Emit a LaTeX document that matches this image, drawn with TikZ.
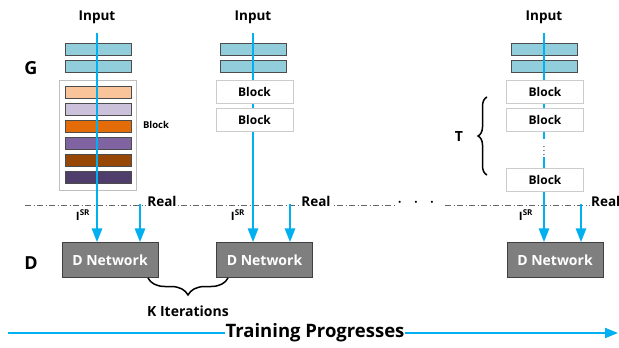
\documentclass[tikz,border=0pt]{standalone}
\usepackage{fontspec}
\setmainfont{Open Sans}
\usetikzlibrary{arrows.meta,decorations.pathreplacing}

\definecolor{flowblue}{HTML}{00B0F0}
\definecolor{tealblk}{HTML}{92CDDC}
\definecolor{blkA}{HTML}{F9C499}
\definecolor{blkB}{HTML}{CCC1DA}
\definecolor{blkC}{HTML}{E36C09}
\definecolor{blkD}{HTML}{8064A2}
\definecolor{blkE}{HTML}{974806}
\definecolor{blkF}{HTML}{4F3D6B}
\definecolor{dnet}{HTML}{7F7F7F}

\begin{document}
\begin{tikzpicture}[x=1pt,y=-1pt,
  flow/.style={draw=flowblue,line width=2.8pt,-{Triangle[width=10pt,length=14pt]}},
  lbl/.style={font=\bfseries\fontsize{13.5}{15}\selectfont,inner sep=1pt},
  big/.style={font=\bfseries\fontsize{18}{20}\selectfont},
  thin/.style={draw=black!70,minimum width=66pt,minimum height=12pt,inner sep=0pt},
  blockbox/.style={draw=black!20,fill=white,minimum width=77pt,minimum height=23pt,inner sep=0pt,font=\bfseries\fontsize{12}{14}\selectfont},
  dbox/.style={draw=black!75,fill=dnet,text=white,minimum width=96pt,minimum height=35pt,inner sep=0pt,font=\bfseries\fontsize{14}{16}\selectfont},
  sr/.style={font=\bfseries\fontsize{11.5}{13}\selectfont,inner sep=0pt},
  curly/.style={decorate,line width=1.5pt}]
\clip (0,0) rectangle (619,348);
\useasboundingbox (0,0) rectangle (619,348);

\node[big] (g) at (31,68) {G};
\node[big] (d) at (31,263) {D};

\draw[black!60,dash pattern=on 6pt off 2.5pt on 1pt off 2.5pt] (25,205) -- (395,205);
\draw[black!60,dash pattern=on 6pt off 2.5pt on 1pt off 2.5pt] (445,205) -- (597,205);
\node[font=\bfseries\fontsize{20}{20}\selectfont] (dots) at (416,203) {$\cdot\;\cdot\;\cdot$};

\node[lbl] (in1) at (97,17) {Input};
\node[lbl] (in2) at (253,17) {Input};
\node[lbl] (in3) at (544,17) {Input};
\coordinate (top1) at (97,33);
\coordinate (top2) at (253,33);
\coordinate (top3) at (544,33);

\node[dbox] (dn1) at (110,260) {D Network};
\node[dbox] (dn2) at (264.5,260) {D Network};
\node[dbox] (dn3) at (555,260) {D Network};

% generator, first stage
\node[draw=black!25,fill=white,minimum width=77pt,minimum height=110pt] (grp) at (97.5,135) {};
\foreach \y [count=\i] in {49,66} {
  \node[thin,fill=tealblk] (ta\i) at (98,\y) {};
  \node[thin,fill=tealblk] (tb\i) at (253,\y) {};
  \node[thin,fill=tealblk] (tc\i) at (544.5,\y) {};
}
\foreach \c [count=\i] in {blkA,blkB,blkC,blkD,blkE,blkF}
  \node[thin,fill=\c] (b\i) at (98,{75+17*\i}) {};
\node[font=\bfseries\fontsize{9.5}{11}\selectfont] (blk) at (156,125) {Block};

\draw[flow] (top1) -- (top1 |- dn1.north);
\draw[flow] (top2) -- (top2 |- dn2.north);
\draw[flow] (top3) -- (top3 |- dn3.north);

% generator, later stages
\node[blockbox] (p1) at (254.5,91.5) {Block};
\node[blockbox] (p2) at (254.5,119.5) {Block};
\node[blockbox] (q1) at (545,91.5) {Block};
\node[blockbox] (q2) at (545,119.5) {Block};
\node[fill=white,inner sep=1pt,font=\fontsize{9}{9}\selectfont] (qv) at (544,148) {$\vdots$};
\node[blockbox] (q3) at (545,179.5) {Block};

\draw[curly,decoration={brace,amplitude=9pt}] (487,175) -- (487,97);
\node[font=\bfseries\fontsize{14}{16}\selectfont] (t) at (459,137) {T};

% real inputs
\node[lbl,fill=white] (rl1) at (162,201) {Real};
\node[lbl,fill=white] (rl2) at (316,201) {Real};
\node[lbl,fill=white,anchor=west] (rl3) at (590,201) {Real};
\coordinate (r1) at (140,204);
\coordinate (r2) at (290,204);
\coordinate (r3) at (581,204);
\draw[flow] (r1) -- (r1 |- dn1.north);
\draw[flow] (r2) -- (r2 |- dn2.north);
\draw[flow] (r3) -- (r3 |- dn3.north);

\node[sr] (s1) at (83,215) {I\textsuperscript{SR}};
\node[sr] (s2) at (238,215) {I\textsuperscript{SR}};
\node[sr] (s3) at (526,215) {I\textsuperscript{SR}};

\draw[curly,decoration={brace,amplitude=17pt}] (228,278) -- (148,278);
\node[lbl,font=\bfseries\fontsize{14}{16}\selectfont] (k) at (188,311) {K Iterations};

\node[font=\bfseries\fontsize{18.5}{20}\selectfont,inner sep=0pt] (tp) at (315,333) {Training Progresses};
\coordinate (ts) at (8,333);
\coordinate (te) at (618,333);
\draw[flowblue,line width=2pt] (ts) -- (tp.west);
\draw[flowblue,line width=2pt,-{Triangle[width=10pt,length=13pt]}] (tp.east) -- (te);
\end{tikzpicture}
\end{document}
